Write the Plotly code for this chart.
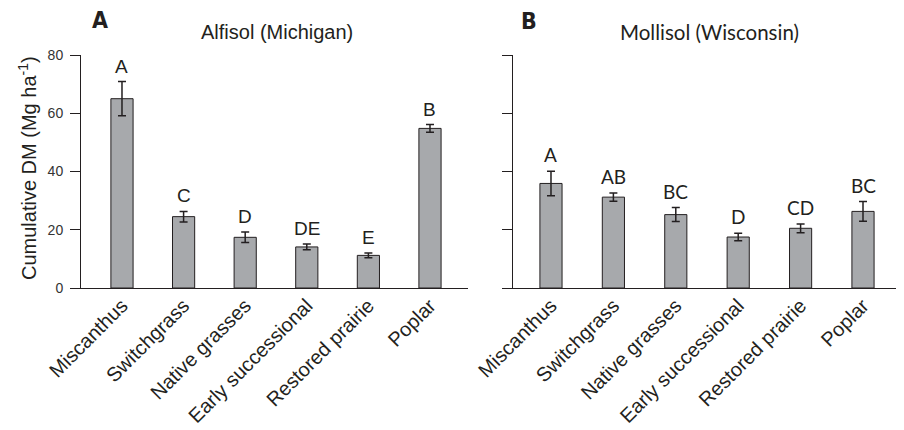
import plotly.graph_objects as go

categories = ["Miscanthus", "Switchgrass", "Native grasses", "Early successional", "Restored prairie", "Poplar"]

alfisol_values = [65.0, 24.5, 17.4, 14.1, 11.2, 54.8]
alfisol_errors = [5.9, 1.8, 1.8, 1.0, 0.8, 1.3]
alfisol_letters = ["A", "C", "D", "DE", "E", "B"]

mollisol_values = [35.9, 31.2, 25.2, 17.5, 20.5, 26.3]
mollisol_errors = [4.2, 1.4, 2.4, 1.3, 1.5, 3.4]
mollisol_letters = ["A", "AB", "BC", "D", "CD", "BC"]

y_ticks = [0, 20, 40, 60, 80]

# page has an 8px body margin; the figure is laid out in page pixels minus that offset
OFF = 8
W, H = 904 - OFF, 430 - OFF
PLOT_TOP, PLOT_BOT = 55 - OFF, 288 - OFF
PH = PLOT_BOT - PLOT_TOP

BAR_FILL = "#a7a9ac"
DARK = "#231f20"
HELV = "Liberation Sans, Arial, Helvetica, sans-serif"
MYRIAD = "Lato, Open Sans, sans-serif"
COND = "Liberation Sans Narrow, DejaVu Sans Condensed, Arial Narrow, sans-serif"


def px(x):
    return (x - OFF) / W


def py(y):
    return (PLOT_BOT - (y - OFF)) / PH


fig = go.Figure()

fig.add_trace(go.Bar(
    x=categories, y=alfisol_values, xaxis="x", yaxis="y",
    width=0.36,
    marker=dict(color=BAR_FILL, line=dict(color=DARK, width=1)),
    error_y=dict(type="data", array=alfisol_errors, color=DARK, thickness=1.5, width=4),
    showlegend=False,
))
fig.add_trace(go.Bar(
    x=categories, y=mollisol_values, xaxis="x2", yaxis="y2",
    width=0.355,
    marker=dict(color=BAR_FILL, line=dict(color=DARK, width=1)),
    error_y=dict(type="data", array=mollisol_errors, color=DARK, thickness=1.5, width=4),
    showlegend=False,
))

annotations = []
for c, v, e, t in zip(categories, alfisol_values, alfisol_errors, alfisol_letters):
    annotations.append(dict(x=c, y=v + e, xref="x", yref="y", text=t, showarrow=False,
                            yanchor="bottom", yshift=3,
                            font=dict(family=HELV, size=19, color=DARK)))
for c, v, e, t in zip(categories, mollisol_values, mollisol_errors, mollisol_letters):
    annotations.append(dict(x=c, y=v + e, xref="x2", yref="y2", text=t, showarrow=False,
                            yanchor="bottom", yshift=3,
                            font=dict(family=MYRIAD, size=19, color=DARK)))

annotations += [
    dict(x=px(100), y=py(20), xref="paper", yref="paper", text="<b>A</b>",
         showarrow=False, xanchor="center", yanchor="middle",
         font=dict(family=COND, size=23, color=DARK)),
    dict(x=px(529), y=py(21), xref="paper", yref="paper", text="<b>B</b>",
         showarrow=False, xanchor="center", yanchor="middle",
         font=dict(family=COND, size=23, color=DARK)),
    dict(x=px(277), y=py(32), xref="paper", yref="paper", text="Alfisol (Michigan)",
         showarrow=False, xanchor="center", yanchor="middle",
         font=dict(family=HELV, size=20, color=DARK)),
    dict(x=px(709), y=py(32), xref="paper", yref="paper", text="Mollisol (Wisconsin)",
         showarrow=False, xanchor="center", yanchor="middle",
         font=dict(family=MYRIAD, size=20.5, color=DARK)),
    dict(x=px(27), y=py(168), xref="paper", yref="paper",
         text="Cumulative DM (Mg ha<sup>-1</sup>)", textangle=-90,
         showarrow=False, xanchor="center", yanchor="middle",
         font=dict(family=HELV, size=20, color=DARK)),
]

common_x = dict(type="category", showline=True, linecolor=DARK, linewidth=1.2,
                ticks="", showgrid=False, zeroline=False, tickangle=-45,
                ticklabelstandoff=-3,
                tickfont=dict(family=HELV, size=20, color=DARK), automargin=False,
                fixedrange=True)
common_y = dict(range=[0, 80], tickvals=y_ticks, showline=True, linecolor=DARK, linewidth=1,
                ticks="outside", ticklen=10, tickwidth=1, tickcolor=DARK,
                showgrid=False, zeroline=False, automargin=False, fixedrange=True)

fig.update_layout(
    width=W, height=H,
    margin=dict(l=0, r=0, t=PLOT_TOP, b=H - PLOT_BOT),
    paper_bgcolor="white", plot_bgcolor="white",
    xaxis=dict(domain=[px(70), px(468)], anchor="y", range=[-0.844, 5.617], **common_x),
    yaxis=dict(anchor="free", position=px(80), ticklabelstandoff=4,
               tickfont=dict(family=HELV, size=14, color="#333333"), **common_y),
    xaxis2=dict(domain=[px(502), 1.0], anchor="y2", range=[-0.785, 5.657], **common_x),
    yaxis2=dict(anchor="free", position=px(512), showticklabels=False, **common_y),
    annotations=annotations,
)

fig.write_html("out.html")
